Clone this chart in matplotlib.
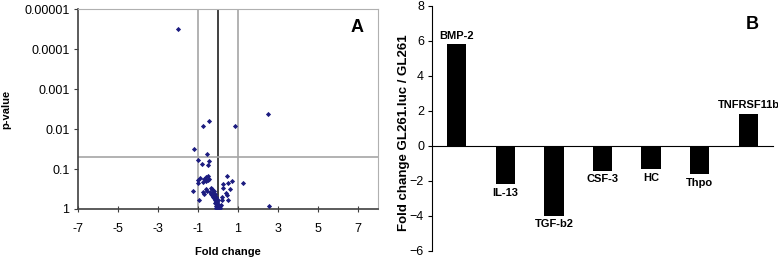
import matplotlib
matplotlib.use("Agg")
import matplotlib.pyplot as plt
import numpy as np

plt.rcParams["font.family"] = ["Liberation Sans", "DejaVu Sans"]

# panel A: volcano plot (fold change vs p-value)
fold = [-2.01, 2.51, -0.45, -0.72, 0.85, -1.18, -0.55, -1.00, -0.45, -0.47,
        -0.78, 0.45, -0.50, -0.60, -0.45, -0.70, -0.90, -0.98, -1.00, -0.73,
        -0.57, -0.48, 0.73, 1.25, 0.52, 0.28, 0.27, -1.25, -0.76, -0.70,
        -0.60, -0.52, -0.93, 0.63, 0.40, 0.45, 0.23, 0.50, 0.22, -0.35,
        -0.27, -0.20, -0.40, -0.35, -0.28, -0.23, -0.18, -0.13, -0.07, -0.03,
        0.02, 0.05, 0.10, -0.10, -0.02, 0.15, 0.03, -0.08, -0.22, -0.15,
        2.54, 0.10, -0.07, -0.15, 0.00, -0.05, 0.07]
pval = [3.2e-5, 0.0043, 0.0063, 0.0085, 0.0085, 0.032, 0.042, 0.059, 0.062, 0.079,
        0.074, 0.15, 0.15, 0.16, 0.18, 0.18, 0.17, 0.19, 0.22, 0.21,
        0.20, 0.19, 0.20, 0.22, 0.22, 0.23, 0.29, 0.35, 0.38, 0.42,
        0.32, 0.35, 0.60, 0.32, 0.39, 0.44, 0.49, 0.60, 0.60, 0.29,
        0.32, 0.35, 0.37, 0.41, 0.45, 0.49, 0.54, 0.60, 0.66, 0.72,
        0.79, 0.87, 0.84, 0.84, 0.91, 0.79, 0.60, 0.49, 0.39, 0.43,
        0.83, 0.96, 0.96, 0.72, 0.80, 0.68, 0.92]
p_cut = 0.05
fold_cut = [-1, 1]
x_ticks = [-7, -5, -3, -1, 1, 3, 5, 7]
y_ticks = [1, 0.1, 0.01, 0.001, 0.0001, 0.00001]
y_ticklabels = ["1", "0.1", "0.01", "0.001", "0.0001", "0.00001"]

# panel B: fold change of selected genes
genes = ["BMP-2", "IL-13", "TGF-b2", "CSF-3", "HC", "Thpo", "TNFRSF11b"]
gene_fc = [5.8, -2.2, -4.0, -1.43, -1.35, -1.62, 1.83]

fig = plt.figure(figsize=(7.78, 2.62), dpi=100)

# ---- panel A ----
ax = fig.add_axes([0.0999, 0.2023, 0.386, 0.7622])
ax.set_yscale("log")
ax.set_xlim(-7, 8)
ax.set_ylim(1, 1e-5)
for fc in fold_cut:
    ax.axvline(fc, color="#a6a6a6", lw=1.2, zorder=1)
ax.axvline(0, color="#404040", lw=1.4, zorder=1)
ax.axhline(p_cut, color="#a6a6a6", lw=1.2, zorder=1)
ax.scatter(fold, pval, marker="D", s=7, color="#1c1c80", lw=0, zorder=3)
ax.set_xticks(x_ticks)
ax.set_xticklabels([str(t) for t in x_ticks], fontsize=9)
ax.set_yticks(y_ticks)
ax.set_yticklabels(y_ticklabels, fontsize=9)
ax.yaxis.set_minor_locator(matplotlib.ticker.NullLocator())
ax.tick_params(axis="x", direction="inout", length=4, color="#404040", pad=8)
ax.tick_params(axis="y", direction="out", length=3, color="#404040", pad=3)
for s in ["top", "right"]:
    ax.spines[s].set_color("#b0b0b0")
for s in ["left", "bottom"]:
    ax.spines[s].set_color("#404040")
    ax.spines[s].set_linewidth(1.2)
ax.set_xlabel("Fold change", fontsize=8, fontweight="bold", labelpad=9)
ax.set_ylabel("p-value", fontsize=8, fontweight="bold", labelpad=9)
ax.text(0.93, 0.91, "A", transform=ax.transAxes, fontsize=13, fontweight="bold",
        ha="center", va="center")

# ---- panel B ----
bx = fig.add_axes([0.5557, 0.0431, 0.4375, 0.9351])
xpos = np.arange(len(genes))
bx.bar(xpos, gene_fc, width=0.4, color="black")
bx.set_xlim(-0.5, 6.5)
bx.set_ylim(-6, 8)
bx.set_yticks(range(-6, 9, 2))
bx.tick_params(axis="y", labelsize=9, direction="out", length=3, pad=3)
bx.set_xticks([])
bx.spines["top"].set_visible(False)
bx.spines["right"].set_visible(False)
bx.spines["bottom"].set_position(("data", 0))
bx.set_ylabel("Fold change GL261.luc / GL261", fontsize=9.5, fontweight="bold")
bx.yaxis.set_label_coords(-0.067, 0.48)
for x, v, g in zip(xpos, gene_fc, genes):
    if v > 0:
        bx.text(x, v + 0.2, g, ha="center", va="bottom", fontsize=8, fontweight="bold")
    else:
        bx.text(x, v - 0.2, g, ha="center", va="top", fontsize=8, fontweight="bold")
bx.text(0.94, 0.925, "B", transform=bx.transAxes, fontsize=13, fontweight="bold",
        ha="center", va="center")

fig.savefig("out.png", dpi=100)
